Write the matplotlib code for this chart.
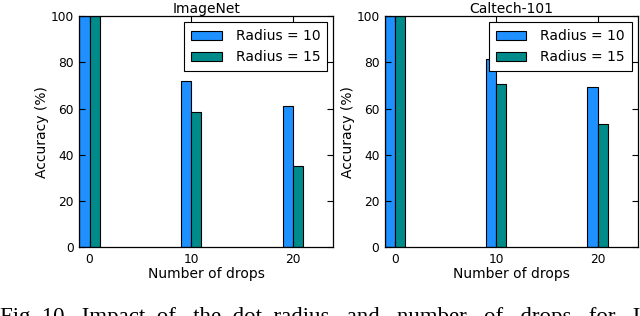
import matplotlib
matplotlib.use("Agg")
import matplotlib.pyplot as plt
import numpy as np

drops = [0, 10, 20]
titles = ["ImageNet", "Caltech-101"]
radius10 = {"ImageNet": [100, 72, 61], "Caltech-101": [100, 81.5, 69.5]}
radius15 = {"ImageNet": [100, 58.5, 35], "Caltech-101": [100, 70.5, 53.5]}
labels = ["Radius = 10", "Radius = 15"]
yticks = [0, 20, 40, 60, 80, 100]
xticks = [0, 10, 20]

c10 = "#1E90FF"
c15 = "#008B8B"

fig = plt.figure(figsize=(6.4, 3.16), dpi=100)
positions = [[0.124, 0.218, 0.397, 0.731], [0.6016, 0.218, 0.3953, 0.731]]

for pos, name in zip(positions, titles):
    ax = fig.add_axes(pos)
    x = np.array(drops, dtype=float)
    ax.bar(x - 1, radius10[name], width=1, align="edge", color=c10,
           edgecolor="black", linewidth=0.8, label=labels[0])
    ax.bar(x, radius15[name], width=1, align="edge", color=c15,
           edgecolor="black", linewidth=0.8, label=labels[1])
    ax.set_xlim(-1, 24)
    ax.set_ylim(0, 100)
    ax.set_xticks(xticks)
    ax.set_yticks(yticks)
    ax.tick_params(direction="in", top=True, right=True, length=4,
                   labelsize=8.8, pad=4)
    ax.set_title(name, fontsize=10, pad=2)
    ax.set_xlabel("Number of drops", fontsize=10, labelpad=1)
    ax.set_ylabel("Accuracy (%)", fontsize=10, labelpad=1)
    leg = ax.legend(loc="upper right", fontsize=10, fancybox=False,
                    framealpha=1, edgecolor="black", borderaxespad=0.45,
                    handlelength=2.2, handletextpad=1.0, borderpad=0.5)
    leg.get_frame().set_linewidth(0.8)
    for s in ax.spines.values():
        s.set_linewidth(0.9)

fig.text(0.0, 0.028, "Fig. 10.  Impact  of   the  dot  radius   and   number   of   drops   for   I",
         fontsize=16.5, family="Liberation Serif", va="top", ha="left")

fig.savefig("out.png", dpi=100)
